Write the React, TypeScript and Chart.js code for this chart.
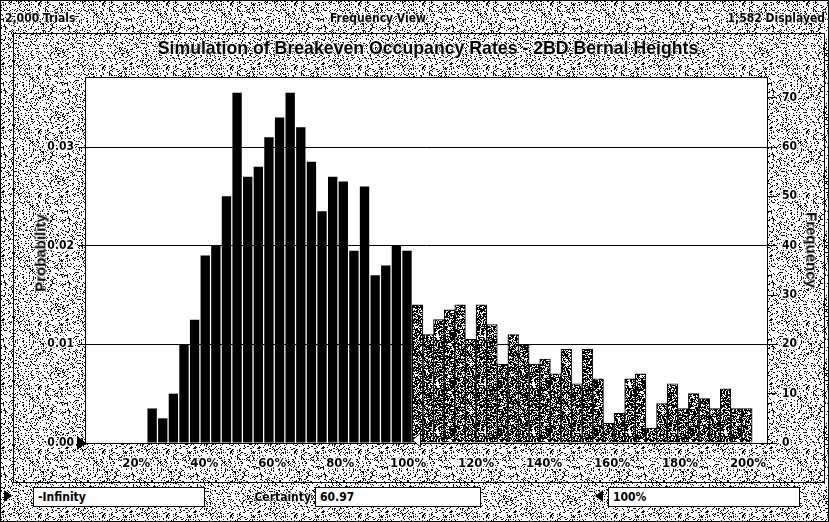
import React, { useEffect, useRef } from 'react';
import { Chart, registerables } from 'chart.js';

Chart.register(...registerables);

// ---- data ----
const TOTAL_TRIALS = 2000;
const BIN_START = 23.1; // lower edge (%) of first displayed cell
const BIN_WIDTH = 3.125; // cell width (%)
const FREQ_CERTAIN = [7, 5, 10, 20, 25, 38, 40, 50, 71, 54, 56, 62, 66, 71, 64, 57, 47, 54, 53, 39, 52, 34, 36, 40, 39];
const FREQ_BEYOND = [28, 22, 25, 27, 28, 21, 28, 24, 16, 22, 20, 16, 17, 14, 19, 12, 19, 13, 4, 6, 13, 14, 3, 8, 12, 7, 10, 9, 7, 11, 7, 7];
const X_TICKS = [20, 40, 60, 80, 100, 120, 140, 160, 180, 200];
const PROB_TICKS = [0, 0.01, 0.02, 0.03];
const FREQ_TICKS = [0, 10, 20, 30, 40, 50, 60, 70];
const X_MIN = 5.2;
const X_MAX = 205.6;
const FREQ_MAX = 74.2;

const NARROW = "'Liberation Sans Narrow', 'DejaVu Sans Condensed', 'Arial Narrow', sans-serif";

function hash(x: number, y: number, s: number) {
  let h = Math.imul(x, 374761393) + Math.imul(y, 668265263) + Math.imul(s, 982451653);
  h = Math.imul(h ^ (h >>> 13), 1274126177);
  h = h ^ (h >>> 16);
  return ((h >>> 0) % 1000) / 1000;
}

function makePattern(size: number, base: string, dot: string, density: number, seed: number) {
  const c = document.createElement('canvas');
  c.width = size;
  c.height = size;
  const g = c.getContext('2d')!;
  g.fillStyle = base;
  g.fillRect(0, 0, size, size);
  g.fillStyle = dot;
  for (let y = 0; y < size; y++) {
    for (let x = 0; x < size; x++) {
      if (hash(x, y, seed) < density) g.fillRect(x, y, 1, 1);
    }
  }
  return g.createPattern(c, 'repeat')!;
}

const framePlugin = {
  id: 'frame',
  beforeDraw(chart: any) {
    const { ctx, chartArea: a, width, height } = chart;
    ctx.save();
    ctx.fillStyle = makePattern(64, '#ffffff', '#000000', 0.2, 7);
    ctx.fillRect(0, 0, width, height);
    ctx.fillStyle = '#ffffff';
    ctx.fillRect(a.left, a.top, a.right - a.left, a.bottom - a.top);
    ctx.strokeStyle = '#000';
    ctx.lineWidth = 1;
    ctx.strokeRect(0.5, 0.5, width - 1, height - 1);
    ctx.strokeRect(13.5, 33.5, 811, 449);
    ctx.restore();
  },
  afterDraw(chart: any) {
    const { ctx, chartArea: a, scales } = chart;
    ctx.save();
    ctx.strokeStyle = '#000';
    ctx.lineWidth = 1;
    ctx.strokeRect(Math.round(a.left) - 0.5, Math.round(a.top) + 0.5, Math.round(a.right - a.left) + 1, Math.round(a.bottom - a.top));
    // left grabber (filled, pointing right)
    const by = Math.round(a.bottom);
    ctx.fillStyle = '#000';
    ctx.beginPath();
    ctx.moveTo(a.left, by);
    ctx.lineTo(a.left - 9, by - 7);
    ctx.lineTo(a.left - 9, by + 7);
    ctx.closePath();
    ctx.fill();
    // right grabber (outlined, pointing left) at certainty boundary
    const gx = Math.round(scales.x.getPixelForValue(BIN_START + FREQ_CERTAIN.length * BIN_WIDTH)) + 0.5;
    ctx.fillStyle = '#fff';
    ctx.beginPath();
    ctx.moveTo(gx, by - 3);
    ctx.lineTo(gx + 8, by - 10);
    ctx.lineTo(gx + 8, by + 4);
    ctx.closePath();
    ctx.fill();
    ctx.stroke();
    ctx.restore();
  },
};

const HALO = '0 0 2px #fff, 0 0 2px #fff, 0 0 3px #fff';

export default function App() {
  const ref = useRef<HTMLCanvasElement>(null);

  useEffect(() => {
    const canvas = ref.current!;
    const ctx = canvas.getContext('2d')!;
    const barPattern = makePattern(48, '#000000', '#ffffff', 0.36, 3);
    const certainData = FREQ_CERTAIN.map((f, i) => ({ x: BIN_START + (i + 0.5) * BIN_WIDTH, y: f }));
    const beyondData = FREQ_BEYOND.map((f, i) => ({
      x: BIN_START + (FREQ_CERTAIN.length + i + 0.5) * BIN_WIDTH,
      y: f,
    }));

    const tickStyle = { color: '#000', textStrokeColor: '#ffffff', textStrokeWidth: 3 };

    const chart = new Chart(ctx, {
      type: 'bar',
      data: {
        datasets: [
          {
            label: 'Within certainty range',
            data: certainData,
            backgroundColor: '#000000',
            borderWidth: 0,
            barPercentage: 0.88,
            categoryPercentage: 1,
            grouped: false,
            yAxisID: 'yFreq',
          },
          {
            label: 'Outside certainty range',
            data: beyondData,
            backgroundColor: barPattern as any,
            borderColor: '#000000',
            borderWidth: 1,
            borderSkipped: 'bottom',
            barPercentage: 1,
            categoryPercentage: 1,
            grouped: false,
            yAxisID: 'yFreq',
          },
        ] as any,
      },
      plugins: [framePlugin],
      options: {
        responsive: false,
        animation: false,
        devicePixelRatio: 1,
        layout: { padding: { top: 77, left: 0, right: 0, bottom: 0 } },
        plugins: { legend: { display: false }, tooltip: { enabled: false } },
        font: { family: NARROW, size: 12 },
        scales: {
          x: {
            type: 'linear',
            offset: false,
            min: X_MIN,
            max: X_MAX,
            afterBuildTicks: (s: any) => {
              s.ticks = X_TICKS.map((v) => ({ value: v }));
            },
            afterFit: (s: any) => {
              s.height = 79;
            },
            ticks: {
              ...tickStyle,
              padding: 13,
              font: { family: NARROW, size: 13, weight: 'bold' },
              callback: (v: any) => v + '%',
              maxRotation: 0,
              autoSkip: false,
            },
            grid: { display: false, drawTicks: false, offset: false },
            border: { display: false },
          },
          yProb: {
            type: 'linear',
            position: 'left',
            min: 0,
            max: FREQ_MAX / TOTAL_TRIALS,
            afterBuildTicks: (s: any) => {
              s.ticks = PROB_TICKS.map((v) => ({ value: v }));
            },
            afterFit: (s: any) => {
              s.width = 86;
            },
            ticks: {
              ...tickStyle,
              padding: 4,
              font: { family: NARROW, size: 12, weight: 'bold' },
              callback: (v: any) => Number(v).toFixed(2),
            },
            grid: { color: '#000', lineWidth: 1, tickLength: 8, drawTicks: true },
            border: { display: false },
          },
          yFreq: {
            type: 'linear',
            position: 'right',
            min: 0,
            max: FREQ_MAX,
            afterBuildTicks: (s: any) => {
              s.ticks = FREQ_TICKS.map((v) => ({ value: v }));
            },
            afterFit: (s: any) => {
              s.width = 62;
            },
            ticks: {
              ...tickStyle,
              padding: 5,
              font: { family: NARROW, size: 12, weight: 'bold' },
            },
            grid: { color: '#000', drawOnChartArea: false, tickLength: 10, drawTicks: true },
            border: { display: false },
          },
        },
      } as any,
    });
    return () => chart.destroy();
  }, []);

  const txt = (extra: React.CSSProperties): React.CSSProperties => ({
    position: 'absolute',
    fontFamily: NARROW,
    fontSize: 12,
    fontWeight: 'bold',
    color: '#000',
    whiteSpace: 'nowrap',
    lineHeight: 1,
    textShadow: HALO,
    ...extra,
  });
  const box = (left: number, width: number): React.CSSProperties => ({
    position: 'absolute',
    left,
    top: 487,
    width,
    height: 20,
    background: '#fff',
    border: '1px solid #000',
    boxSizing: 'border-box',
    fontFamily: NARROW,
    fontSize: 12,
    fontWeight: 'bold',
    lineHeight: '18px',
    paddingLeft: 4,
    color: '#000',
  });

  return (
    <div style={{ position: 'absolute', left: 0, top: 0, width: 829, height: 522, overflow: 'hidden' }}>
      <canvas ref={ref} width={829} height={522} style={{ display: 'block', width: 829, height: 522 }} />
      <div style={txt({ left: 5, top: 12 })}>2,000 Trials</div>
      <div style={txt({ left: 378, top: 18, transform: 'translate(-50%, -50%)' })}>Frequency View</div>
      <div style={txt({ right: 4, top: 12 })}>1,582 Displayed</div>
      <div
        style={txt({
          left: 428,
          top: 49,
          transform: 'translate(-50%, -50%)',
          fontFamily: "'Liberation Sans', Arial, sans-serif",
          fontSize: 17.7,
        })}
      >
        Simulation of Breakeven Occupancy Rates - 2BD Bernal Heights
      </div>
      <div
        style={txt({
          left: 40,
          top: 253,
          fontSize: 15,
          fontFamily: "'Liberation Sans', Arial, sans-serif",
          transform: 'translate(-50%, -50%) rotate(-90deg)',
        })}
      >
        Probability
      </div>
      <div
        style={txt({
          left: 812,
          top: 250,
          fontSize: 15,
          fontFamily: "'Liberation Sans', Arial, sans-serif",
          transform: 'translate(-50%, -50%) rotate(90deg)',
        })}
      >
        Frequency
      </div>
      <div
        style={{
          position: 'absolute',
          left: 4,
          top: 490,
          width: 0,
          height: 0,
          borderTop: '6px solid transparent',
          borderBottom: '6px solid transparent',
          borderLeft: '8px solid #000',
        }}
      />
      <div style={box(33, 172)}>-Infinity</div>
      <div style={txt({ left: 311, top: 491, transform: 'translateX(-100%)' })}>Certainty</div>
      <div style={box(315, 166)}>60.97</div>
      <div
        style={{
          position: 'absolute',
          left: 595,
          top: 490,
          width: 0,
          height: 0,
          borderTop: '6px solid transparent',
          borderBottom: '6px solid transparent',
          borderRight: '8px solid #000',
        }}
      />
      <div style={box(608, 192)}>100%</div>
    </div>
  );
}
